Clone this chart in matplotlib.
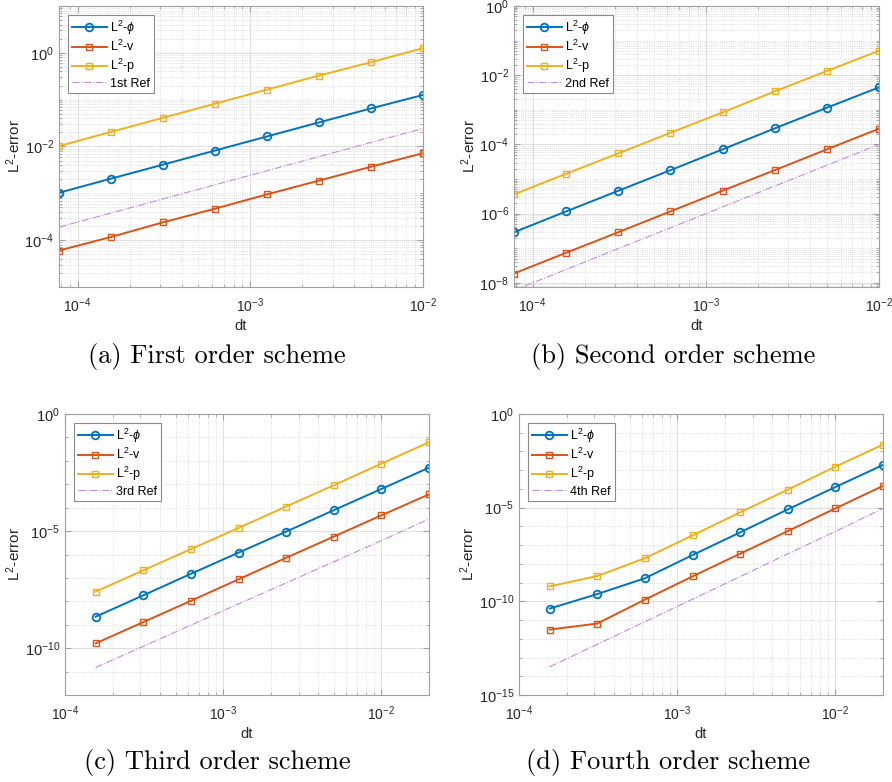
import numpy as np
import matplotlib
matplotlib.use("Agg")
from matplotlib import pyplot as plt
from matplotlib.ticker import FixedLocator, NullFormatter

plt.rcParams['font.family'] = ['Liberation Sans', 'DejaVu Sans']
plt.rcParams['mathtext.fontset'] = 'custom'
plt.rcParams['mathtext.rm'] = 'Liberation Sans'
plt.rcParams['mathtext.it'] = 'Liberation Sans:italic'
plt.rcParams['mathtext.bf'] = 'Liberation Sans:bold'
plt.rcParams['mathtext.fallback'] = 'cm'

# time steps
dt_ab = [7.8125e-5, 1.5625e-4, 3.125e-4, 6.25e-4, 1.25e-3, 2.5e-3, 5e-3, 1e-2]
dt_cd = [1.5625e-4, 3.125e-4, 6.25e-4, 1.25e-3, 2.5e-3, 5e-3, 1e-2, 2e-2]

# (a) first order
phi_a = [1.03e-3, 2.06e-3, 4.1e-3, 8.2e-3, 1.64e-2, 3.27e-2, 6.5e-2, 0.126]
v_a = [6.0e-5, 1.17e-4, 2.4e-4, 4.7e-4, 9.5e-4, 1.87e-3, 3.7e-3, 7.2e-3]
p_a = [1.02e-2, 2.05e-2, 4.1e-2, 8.2e-2, 0.164, 0.327, 0.63, 1.26]
ref_a = [1.9e-4, 3.8e-4, 7.6e-4, 1.52e-3, 3.04e-3, 6.08e-3, 1.22e-2, 2.43e-2]

# (b) second order
phi_b = [2.9e-7, 1.16e-6, 4.57e-6, 1.8e-5, 7.2e-5, 2.9e-4, 1.15e-3, 4.45e-3]
v_b = [1.86e-8, 7.4e-8, 2.9e-7, 1.16e-6, 4.6e-6, 1.8e-5, 7.2e-5, 2.84e-4]
p_b = [3.6e-6, 1.42e-5, 5.5e-5, 2.17e-4, 8.4e-4, 3.4e-3, 1.32e-2, 5.1e-2]
ref_b = [6.1e-9, 2.44e-8, 9.77e-8, 3.9e-7, 1.56e-6, 6.25e-6, 2.5e-5, 1e-4]

# (c) third order
phi_c = [2.2e-9, 1.8e-8, 1.5e-7, 1.2e-6, 9.5e-6, 7.8e-5, 6.3e-4, 5.1e-3]
v_c = [1.6e-10, 1.3e-9, 1.05e-8, 8.7e-8, 7.2e-7, 5.8e-6, 4.7e-5, 3.7e-4]
p_c = [2.6e-8, 2.1e-7, 1.7e-6, 1.36e-5, 1.12e-4, 9.0e-4, 7.6e-3, 6.2e-2]
ref_c = [1.5e-11, 1.2e-10, 9.6e-10, 7.7e-9, 6.1e-8, 4.9e-7, 3.9e-6, 3.3e-5]

# (d) fourth order
phi_d = [4.1e-11, 2.45e-10, 1.7e-9, 2.95e-8, 4.8e-7, 8.1e-6, 1.26e-4, 1.9e-3]
v_d = [3.1e-12, 6.5e-12, 1.23e-10, 2.14e-9, 3.5e-8, 5.6e-7, 9.1e-6, 1.45e-4]
p_d = [6.3e-10, 2.24e-9, 2.0e-8, 3.3e-7, 5.6e-6, 9.1e-5, 1.55e-3, 2.3e-2]
ref_d = [3.2e-14, 5.1e-13, 8.2e-12, 1.3e-10, 2.1e-9, 3.4e-8, 5.4e-7, 9.1e-6]

panels = [
    (dt_ab, phi_a, v_a, p_a, ref_a, '1st Ref', '(a) First order scheme'),
    (dt_ab, phi_b, v_b, p_b, ref_b, '2nd Ref', '(b) Second order scheme'),
    (dt_cd, phi_c, v_c, p_c, ref_c, '3rd Ref', '(c) Third order scheme'),
    (dt_cd, phi_d, v_d, p_d, ref_d, '4th Ref', '(d) Fourth order scheme'),
]

W, H = 892, 782
boxes = [(59, 6, 423, 287), (514, 6, 879, 287), (65, 414, 429, 695), (519, 414, 883, 695)]
xlims = [(7.8125e-5, 1e-2), (7.8125e-5, 1e-2), (1e-4, 2e-2), (1e-4, 2e-2)]
ylims = [(1e-5, 10.0), (10 ** -8.12, 1.0), (1e-12, 1.0), (1e-15, 1.0)]
ymajor = [[1e-4, 1e-2, 1e0], [1e-8, 1e-6, 1e-4, 1e-2, 1e0],
          [1e-10, 1e-5, 1e0], [1e-15, 1e-10, 1e-5, 1e0]]
caption_xy = [(217, 357), (673, 357), (217, 763), (668, 763)]

blue = '#0072BD'
red = '#D95319'
yellow = '#EDB120'
purple = '#C08AD8'


def decade_label(v):
    e = int(round(np.log10(v)))
    return '$10^{%d}$' % e


fig = plt.figure(figsize=(W / 100, H / 100), dpi=100)

for i, (dt, phi, v, p, ref, reflab, cap) in enumerate(panels):
    l, t, r, b = boxes[i]
    ax = fig.add_axes([l / W, 1 - b / H, (r - l) / W, (b - t) / H])
    ax.loglog(dt, phi, '-o', color=blue, lw=1.4, ms=5.5, mfc='none', mew=1.3, label='L$^2$-$\\phi$')
    ax.loglog(dt, v, '-s', color=red, lw=1.4, ms=4.3, mfc='none', mew=1.0, label='L$^2$-v')
    ax.loglog(dt, p, '-s', color=yellow, lw=1.4, ms=4.3, mfc='none', mew=1.0, label='L$^2$-p')
    ax.loglog(dt, ref, '-.', color=purple, lw=0.8, label=reflab)
    ax.set_xlim(*xlims[i])
    ax.set_ylim(*ylims[i])

    # x ticks: decades, minor at 2..9
    xmaj = [1e-4, 1e-3, 1e-2]
    xmin = [m * 10.0 ** e for e in range(-5, -1) for m in range(2, 10)]
    ax.xaxis.set_major_locator(FixedLocator(xmaj))
    ax.xaxis.set_minor_locator(FixedLocator(xmin))
    ax.set_xticklabels([decade_label(x) for x in xmaj])
    ax.xaxis.set_minor_formatter(NullFormatter())

    ymaj = ymajor[i]
    if i < 2:
        ymin = [m * 10.0 ** e for e in range(-9, 1) for m in range(1, 10)]
    else:
        ymin = [10.0 ** e for e in range(-15, 1)]
    ax.yaxis.set_major_locator(FixedLocator(ymaj))
    ax.yaxis.set_minor_locator(FixedLocator(ymin))
    ax.set_yticklabels([decade_label(y) for y in ymaj])
    ax.yaxis.set_minor_formatter(NullFormatter())

    ax.grid(True, which='major', color='#dedede', lw=0.7, ls='-')
    ax.grid(True, which='minor', color='#d4d4d4', lw=0.6, ls=':')
    ax.set_axisbelow(True)
    for s in ax.spines.values():
        s.set_color('#a0a0a0')
        s.set_linewidth(0.8)
    ax.tick_params(which='both', direction='in', top=True, right=True,
                   colors='#a0a0a0', labelcolor='#262626', labelsize=10.5)
    ax.tick_params(which='major', length=4)
    ax.tick_params(which='minor', length=2)
    ax.tick_params(axis='x', which='major', pad=7, labelsize=10)

    ax.set_xlabel('dt', fontsize=10.5, color='#262626', labelpad=3)
    ax.set_ylabel('L$^2$-error', fontsize=11, color='#262626', labelpad=1)

    leg = ax.legend(loc='upper left', fontsize=9, fancybox=False, framealpha=1,
                    edgecolor='#8a8a8a', borderaxespad=0.7, handlelength=2.8,
                    labelspacing=0.2, borderpad=0.3, handletextpad=0.3)
    leg.get_frame().set_linewidth(0.8)

    cx, cy = caption_xy[i]
    fig.text(cx / W, 1 - cy / H, cap, ha='center', va='center',
             fontsize=19, family='cmr10')

fig.savefig('out.png', dpi=100)
